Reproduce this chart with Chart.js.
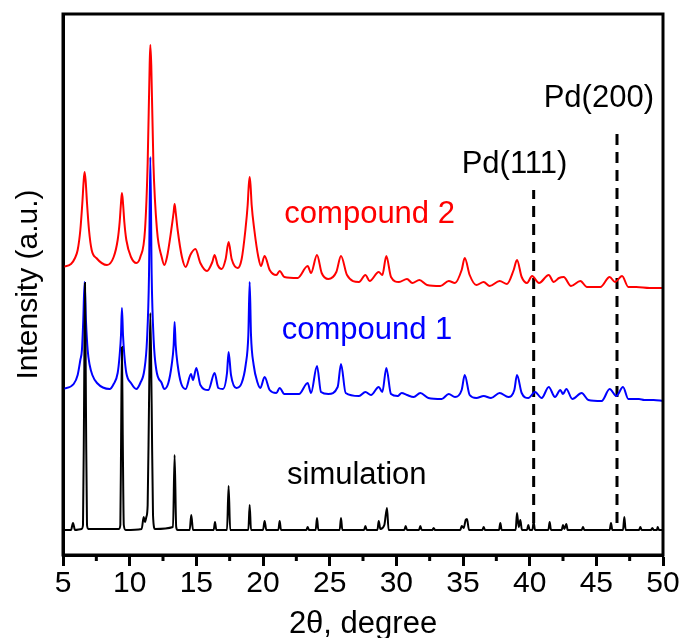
<!DOCTYPE html>
<html>
<head>
<meta charset="utf-8">
<script src="https://cdn.jsdelivr.net/npm/chart.js@4.4.1/dist/chart.umd.min.js"></script>
<style>
  html, body { margin: 0; padding: 0; background: #fff; }
  canvas { display: block; }
</style>
</head>
<body>
<canvas id="chartXrd" width="681" height="638"></canvas>
<script>
// ── data ──────────────────────────────────────────────────
// 2θ (degree) and stacked intensity (a.u., offsets included)

const simX = [5.0, 5.6, 5.75, 5.9, 6.4, 6.5, 6.58, 6.65, 6.72, 6.8, 6.9, 9.2, 9.3, 9.36, 9.42, 9.48, 9.56, 9.7,
  10.9, 11.05, 11.15, 11.25, 11.35, 11.45, 11.55, 11.65, 11.75, 11.9, 13.25, 13.37, 13.49, 13.6,
  14.5, 14.62, 14.75, 16.3, 16.4, 16.5, 17.3, 17.42, 17.54, 18.9, 19.0, 19.1, 20.0, 20.12, 20.25,
  21.15, 21.25, 21.35, 23.25, 23.35, 23.45, 23.95, 24.05, 24.15, 25.75, 25.85, 25.95,
  27.58, 27.68, 27.78, 28.58, 28.68, 28.8, 29.1, 29.3, 29.42, 30.6, 30.7, 30.8, 31.7, 31.8, 31.9,
  32.7, 32.8, 32.9, 34.8, 34.9, 35.05, 35.2, 35.3, 35.45, 36.45, 36.55, 36.65, 37.7, 37.8, 37.9,
  38.95, 39.05, 39.18, 39.3, 39.42, 39.8, 39.9, 40.0, 40.2, 40.3, 40.4, 41.4, 41.5, 41.6,
  42.4, 42.5, 42.6, 42.75, 42.85, 43.9, 44.0, 44.1, 46.0, 46.1, 46.2, 47.0, 47.1, 47.2,
  48.2, 48.3, 48.4, 49.1, 49.2, 49.3, 49.55, 49.6, 49.7, 50.0];
const simY = [25, 25, 32, 25, 26, 30, 150, 272, 150, 30, 26, 26, 30, 120, 208, 120, 30, 25,
  26, 38, 33, 38, 50, 150, 242, 150, 40, 26, 28, 100, 28, 25,
  25, 40, 25, 25, 33, 25, 25, 69, 25, 25, 50, 25, 25, 34, 25,
  25, 34, 25, 25, 28, 25, 25, 37, 25, 25, 37, 25,
  25, 29, 25, 25, 34, 26, 30, 47, 25, 25, 29, 25, 25, 29, 25,
  25, 27, 25, 25, 29, 27, 35, 36, 25, 25, 28, 25, 25, 32, 25,
  25, 42, 28, 35, 25, 25, 30, 25, 25, 33, 25, 25, 33, 25,
  25, 30, 26, 31, 25, 25, 28, 25, 25, 32, 25, 25, 38, 25,
  25, 28, 25, 25, 27, 25, 25, 28, 25, 25];

const c1X = [5.0, 5.8, 6.1, 6.3, 6.42, 6.52, 6.62, 6.72, 6.85, 7.0, 7.2, 7.55, 8.5,
  8.8, 9.1, 9.25, 9.35, 9.42, 9.5, 9.6, 9.75, 10.1, 10.5,
  10.8, 11.1, 11.3, 11.45, 11.55, 11.65, 11.8, 12.0, 12.4, 12.6,
  12.9, 13.15, 13.3, 13.37, 13.45, 13.6, 13.85, 14.2, 14.6, 14.75,
  15.0, 15.3, 15.9, 16.37, 16.65, 17.0, 17.3, 17.42, 17.6, 18.0,
  18.4, 18.7, 18.9, 19.0, 19.1, 19.3, 19.6, 19.8,
  20.12, 20.5, 21.0, 21.25, 21.6, 22.7, 23.35, 23.6, 24.05, 24.35, 24.9, 25.6, 25.85, 26.2,
  27.2, 27.68, 28.1, 28.68, 28.95, 29.25, 29.6, 30.1, 30.4, 30.8, 31.3, 31.8, 32.4, 33.4, 33.93,
  34.4, 34.9, 35.13, 35.5, 36.0, 36.55, 37.1, 37.75, 38.4, 38.85, 39.05, 39.4, 39.9, 40.4, 40.9,
  41.43, 41.9, 42.3, 42.5, 42.75, 43.2, 43.9, 44.4, 45.4, 46.0, 46.5, 47.0, 47.4, 48.2, 48.6,
  49.3, 50.0];
const c1Y = [166, 171, 180, 195, 205, 235, 273, 235, 205, 190, 180, 172, 166,
  171, 182, 200, 220, 247, 220, 200, 182, 172, 166,
  172, 185, 215, 280, 398, 280, 215, 185, 172, 166,
  172, 190, 210, 233, 210, 190, 172, 166, 181, 175,
  187, 170, 165, 182, 167, 166, 182, 203, 180, 167,
  172, 190, 220, 273, 220, 190, 172, 167,
  178, 165, 162, 167, 161, 161, 172, 162, 189, 163, 161, 168, 191, 162,
  159, 163, 160, 168, 163, 187, 161, 159, 162, 160, 158, 162, 157, 156, 161,
  158, 165, 180, 160, 157, 159, 157, 162, 158, 165, 180, 162, 157, 163, 157,
  168, 158, 165, 161, 166, 156, 162, 155, 154, 166, 159, 168, 156, 156, 155,
  155, 154];

const c2X = [5.0, 5.6, 5.9, 6.1, 6.3, 6.45, 6.55, 6.62, 6.7, 6.8, 6.95, 7.15, 7.5, 8.3,
  8.8, 9.1, 9.25, 9.35, 9.42, 9.5, 9.6, 9.75, 10.1, 10.5,
  10.8, 11.15, 11.35, 11.5, 11.55, 11.62, 11.78, 12.05, 12.4, 12.6,
  12.8, 13.12, 13.3, 13.37, 13.45, 13.6, 13.92, 14.2,
  14.55, 14.93, 15.3, 15.8, 16.2, 16.37, 16.6, 16.9, 17.2, 17.42, 17.65, 18.1,
  18.4, 18.68, 18.85, 18.93, 19.0, 19.07, 19.15, 19.35, 19.65, 19.85,
  20.12, 20.5, 21.0, 21.25, 21.6, 22.6, 23.35, 23.6, 24.05, 24.4, 24.9,
  25.5, 25.85, 26.3, 27.2, 27.68, 28.0, 28.68, 28.95, 29.25, 29.6, 30.2, 30.8, 31.2, 31.73, 32.3,
  33.3, 33.93, 34.4, 34.9, 35.13, 35.5, 36.0, 36.55, 37.0, 37.75, 38.3, 38.8, 39.05, 39.4, 39.8,
  40.18, 40.7, 41.43, 41.8, 42.2, 42.55, 43.1, 43.8, 44.3, 45.3, 46.0, 46.4, 46.93, 47.4, 48.0,
  49.0, 50.0];
const c2Y = [288, 291, 297, 305, 325, 352, 374, 383, 374, 352, 325, 305, 297, 290,
  298, 315, 333, 352, 362, 352, 333, 315, 298, 292,
  298, 325, 392, 490, 510, 490, 392, 325, 298, 290,
  298, 325, 343, 351, 343, 325, 298, 288,
  300, 306, 292, 284, 293, 300, 290, 286, 296, 313, 296, 287,
  296, 325, 350, 369, 378, 369, 350, 325, 298, 289,
  299, 285, 280, 284, 278, 277, 289, 282, 300, 282, 276,
  283, 299, 280, 273, 280, 274, 283, 280, 299, 278, 273, 276, 272, 275, 270,
  269, 274, 272, 285, 297, 280, 270, 273, 269, 274, 271, 285, 295, 278, 272,
  279, 272, 280, 273, 277, 278, 269, 274, 268, 268, 278, 273, 279, 268, 268,
  267, 267];

// Pd reference lines
const pdPos    = [40.3, 46.55];
const pdTop    = [365, 427];
const pdBottom = [32, 32];
const pdNames  = ['Pd(111)', 'Pd(200)'];

// ── styling ───────────────────────────────────────────────
const FONT = 'Liberation Sans, Arial, Helvetica, sans-serif';
Chart.defaults.font.family = FONT;
Chart.defaults.color = '#000';

const toPoints = (xs, ys) => xs.map((x, i) => ({ x, y: ys[i] }));

const traceStyle = color => ({
  borderColor: color,
  borderWidth: 2,
  pointRadius: 0,
  fill: false,
  cubicInterpolationMode: 'monotone',
});

const pdSets = pdPos.map((x, i) => ({
  data: [{ x, y: pdBottom[i] }, { x, y: pdTop[i] }],
  borderColor: '#000',
  borderWidth: 3,
  borderDash: [11, 7],
  pointRadius: 0,
}));

// text labels beside the traces (left edge, baseline) in data units
const labels = [
  { text: 'compound 2', x: 21.6, y: 332, color: '#ff0000' },
  { text: 'compound 1', x: 21.4, y: 216, color: '#0000ff' },
  { text: 'simulation', x: 21.8, y: 71,  color: '#000' },
  { text: pdNames[0],   x: 34.9, y: 382, color: '#000' },
  { text: pdNames[1],   x: 41.05, y: 448, color: '#000' },
];

const minorTicks = [7.5, 12.5, 17.5, 22.5, 27.5, 32.5, 37.5, 42.5, 47.5];

// frame, minor ticks and text
const decorPlugin = {
  id: 'decor',
  afterDraw(chart) {
    const { ctx, chartArea: a, scales: { x, y } } = chart;
    ctx.save();
    ctx.strokeStyle = '#000';
    ctx.lineWidth = 3;
    ctx.strokeRect(a.left, a.top, a.right - a.left, a.bottom - a.top);
    ctx.beginPath();
    minorTicks.forEach(v => {
      const px = x.getPixelForValue(v);
      ctx.moveTo(px, a.bottom);
      ctx.lineTo(px, a.bottom + 6);
    });
    ctx.stroke();
    ctx.font = '31px ' + FONT;
    ctx.textBaseline = 'alphabetic';
    ctx.textAlign = 'left';
    labels.forEach(l => {
      ctx.fillStyle = l.color;
      ctx.fillText(l.text, x.getPixelForValue(l.x), y.getPixelForValue(l.y));
    });
    ctx.restore();
  },
};

new Chart(document.getElementById('chartXrd'), {
  type: 'line',
  data: {
    datasets: [
      { data: toPoints(simX, simY), ...traceStyle('#000') },
      { data: toPoints(c1X, c1Y), ...traceStyle('#0000ff') },
      { data: toPoints(c2X, c2Y), ...traceStyle('#ff0000') },
      ...pdSets,
    ],
  },
  options: {
    responsive: false,
    animation: false,
    layout: { padding: { top: 14, right: 18, left: 0, bottom: 0 } },
    plugins: { legend: { display: false }, tooltip: { enabled: false } },
    scales: {
      x: {
        type: 'linear',
        min: 5, max: 50,
        ticks: { stepSize: 5, font: { size: 30 }, color: '#000', padding: 0, maxRotation: 0 },
        grid: { drawOnChartArea: false, drawTicks: true, tickLength: 11, tickWidth: 3, tickColor: '#000' },
        border: { display: true, color: '#000', width: 3 },
        title: { display: true, text: '2θ, degree', font: { size: 31, lineHeight: 0.9 }, color: '#000', padding: 0 },
        afterFit: s => { s.height = 83; },
      },
      y: {
        min: 0, max: 541,
        ticks: { display: false },
        grid: { drawOnChartArea: false, drawTicks: false },
        border: { display: true, color: '#000', width: 3 },
        title: { display: true, text: 'Intensity (a.u.)', font: { size: 30 }, color: '#000', padding: { top: 11, bottom: 0 } },
        afterFit: s => { s.width = 63; },
      },
    },
  },
  plugins: [decorPlugin],
});
</script>
</body>
</html>
